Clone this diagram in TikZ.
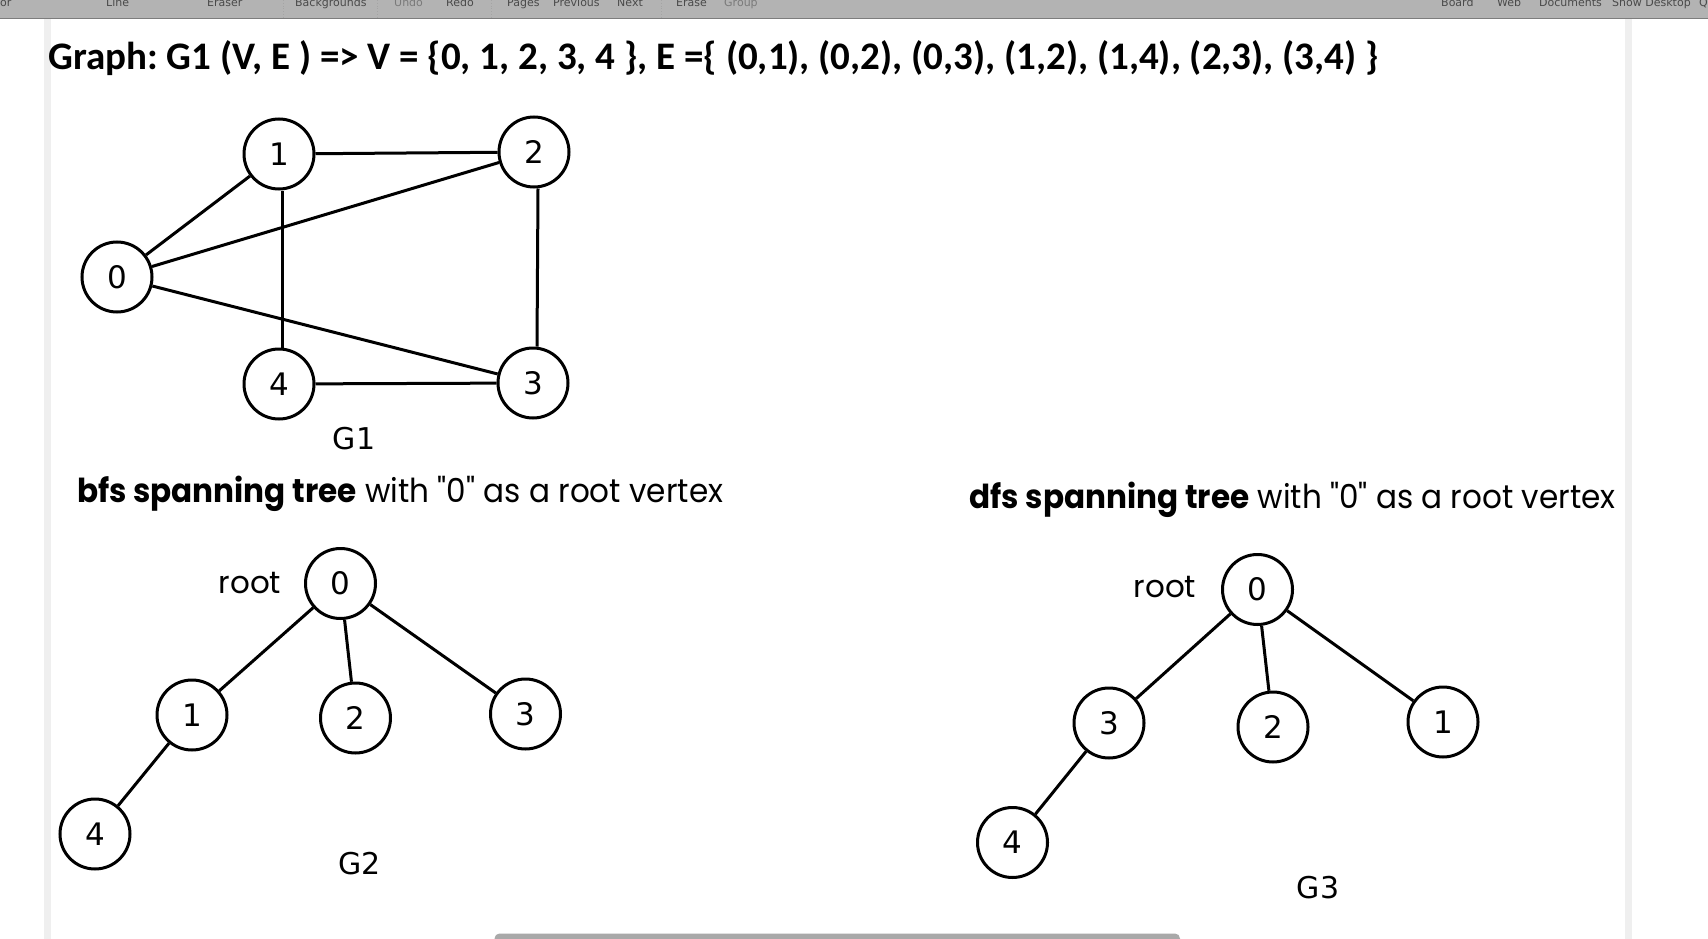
\documentclass[tikz,border=0pt]{standalone}
\usepackage{fontspec}
\usepackage{graphicx}
\setmainfont{DejaVu Sans}
\newfontfamily\titlefont{Carlito}
\newfontfamily\handfont{Poppins}
\frenchspacing
\definecolor{tbgray}{HTML}{B3B3B3}
\definecolor{tbline}{HTML}{7D7D7D}
\definecolor{tbtext}{HTML}{4A4A4A}
\definecolor{tboff}{HTML}{7A7A7A}
\definecolor{stripe}{HTML}{EFEFEF}
\definecolor{sbgray}{HTML}{A9A9A9}
\begin{document}
\begin{tikzpicture}[x=1pt,y=-1pt,
  vtx/.style={circle,draw,line width=3pt,minimum size=70pt,inner sep=0pt,font=\fontsize{31}{36}\selectfont},
  edge/.style={line width=3pt},
  glabel/.style={inner sep=0pt,font=\fontsize{30}{36}\selectfont},
  rootlbl/.style={inner sep=0pt,font=\handfont\fontsize{31}{36}\selectfont},
  tb/.style={inner sep=0pt,anchor=base west,text=tbtext,font=\fontsize{11}{13}\selectfont},
  tboffst/.style={tb,text=tboff},
  sep/.style={draw=tbtext!50,dotted,line width=0.8pt}]
\useasboundingbox (0,0) rectangle (1708,939);
\fill[white] (0,0) rectangle (1708,939);
% toolbar
\fill[tbgray] (0,0) rectangle (1708,18);
\draw[tbline,line width=1.5pt] (0,18.5) -- (1708,18.5);
\node[tb] (tOr) at (0,6.5) {or};
\node[tb] (tLine) at (106,6.5) {Line};
\node[tb] (tEraser) at (207,6.5) {Eraser};
\node[tb] (tBack) at (295,6.5) {Backgrounds};
\node[tboffst] (tUndo) at (394,6.5) {Undo};
\node[tb] (tRedo) at (446,6.5) {Redo};
\node[tb] (tPages) at (507,6.5) {Pages};
\node[tb] (tPrev) at (553,6.5) {Previous};
\node[tb] (tNext) at (617,6.5) {Next};
\node[tb] (tErase) at (676,6.5) {Erase};
\node[tboffst] (tGroup) at (724,6.5) {Group};
\node[tb] (tBoard) at (1441,6.5) {Board};
\node[tb] (tWeb) at (1497,6.5) {Web};
\node[tb] (tDocs) at (1539,6.5) {Documents};
\node[tb] (tShow) at (1612,6.5) {Show Desktop};
\node[tb] (tQ) at (1699,6.5) {Q};
\draw[sep] (283,0) -- (283,17);
\draw[sep] (377,0) -- (377,17);
\draw[sep] (491,0) -- (491,17);
\draw[sep] (661,0) -- (661,17);
% page stripes and scrollbar
\fill[stripe] (44,19.3) rectangle (50.5,939);
\fill[stripe] (1625,19.3) rectangle (1631.5,939);
\fill[sbgray,rounded corners=5pt] (494.5,933.5) rectangle (1180,948);
% title
\node[anchor=base west,inner sep=0pt] (title) at (48,69.5)
  {\resizebox{1330pt}{\height}{\titlefont\bfseries\fontsize{39}{46}\selectfont Graph: G1 (V, E ) => V = \{0, 1, 2, 3, 4 \}, E =\{ (0,1), (0,2), (0,3), (1,2), (1,4), (2,3), (3,4) \}}};
% G1
\node[vtx] (a0) at (117,277) {0};
\node[vtx] (a1) at (279,154) {1};
\node[vtx] (a2) at (534,152) {2};
\node[vtx] (a3) at (533,383) {3};
\node[vtx] (a4) at (279,384) {4};
\draw[edge] (a0) -- (a1);
\draw[edge] (a0) -- (a2);
\draw[edge] (a0) -- (a3);
\draw[edge] (a1) -- (a2);
\draw[edge] ([xshift=3pt]a1.south) -- ([xshift=3pt]a4.north);
\draw[edge] ([xshift=4pt]a2.south) -- ([xshift=4pt]a3.north);
\draw[edge] (a4) -- (a3);
\node[glabel] (g1) at (354,439) {G1};
% headings
\node[anchor=base west,inner sep=0pt] (bfs) at (77,502)
  {\resizebox{646pt}{\height}{\handfont\fontsize{33}{40}\selectfont\textbf{bfs spanning tree} with "0" as a root vertex}};
\node[anchor=base west,inner sep=0pt] (dfs) at (969.5,508.5)
  {\resizebox{646pt}{\height}{\handfont\fontsize{33}{40}\selectfont\textbf{dfs spanning tree} with "0" as a root vertex}};
% G2
\node[rootlbl] (rootA) at (250,583) {root};
\node[vtx] (b0) at (340.5,583.5) {0};
\node[vtx] (b1) at (192,715) {1};
\node[vtx] (b2) at (355.5,718) {2};
\node[vtx] (b3) at (525.5,714) {3};
\node[vtx] (b4) at (95,834) {4};
\draw[edge] (b0) -- (b1);
\draw[edge] (b0) -- (b2);
\draw[edge] (b0) -- (b3);
\draw[edge] (b1) -- (b4);
\node[glabel] (g2) at (359.5,864) {G2};
% G3
\node[rootlbl] (rootB) at (1165,587) {root};
\node[vtx] (c0) at (1257.5,589.5) {0};
\node[vtx] (c3) at (1109,723) {3};
\node[vtx] (c2) at (1273,727) {2};
\node[vtx] (c1) at (1443,722) {1};
\node[vtx] (c4) at (1012.5,842.5) {4};
\draw[edge] (c0) -- (c3);
\draw[edge] (c0) -- (c2);
\draw[edge] (c0) -- (c1);
\draw[edge] (c3) -- (c4);
\node[glabel] (g3) at (1318,888) {G3};
\end{tikzpicture}
\end{document}
